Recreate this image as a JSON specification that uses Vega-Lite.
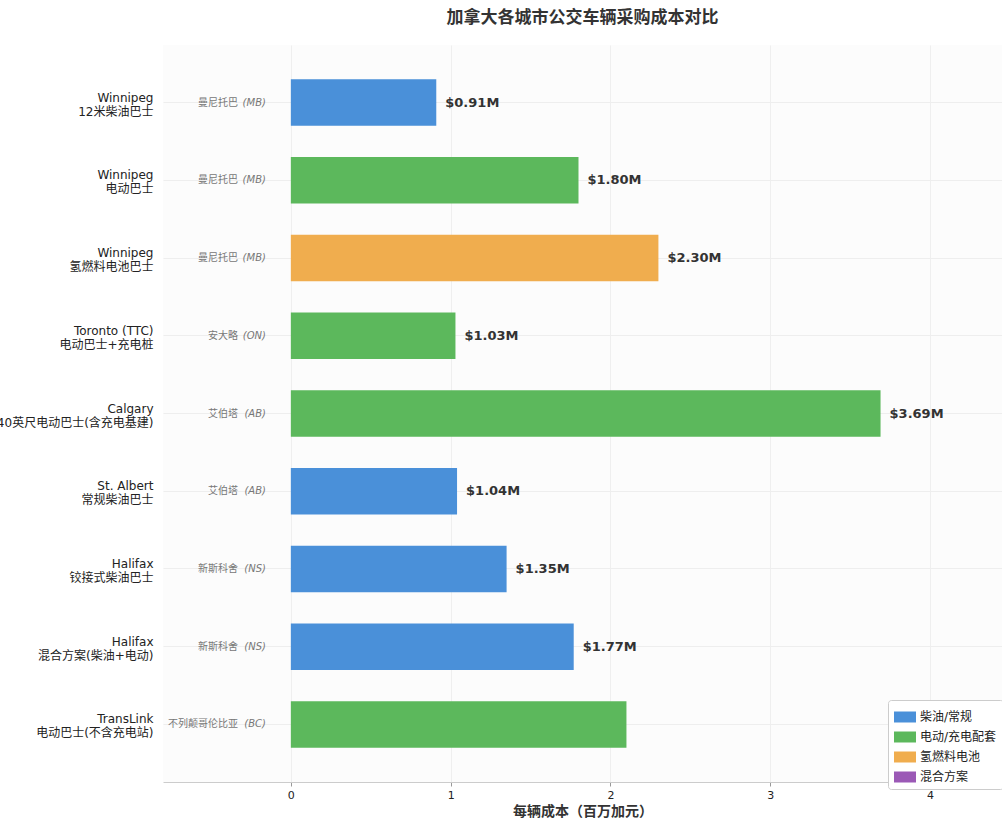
{
  "$schema": "https://vega.github.io/schema/vega-lite/v6.json",
  "autosize": {"type": "none"},
  "width": 839,
  "height": 737,
  "padding": {"left": 163, "top": 45, "right": 0, "bottom": 40},
  "title": {
    "text": "加拿大各城市公交车辆采购成本对比",
    "fontSize": 17,
    "fontWeight": "bold",
    "color": "#333333",
    "offset": 18,
    "anchor": "middle"
  },
  "data": {
    "values": [
      {"vehicle": "Winnipeg|12米柴油巴士", "cost": 0.91, "label": "$0.91M", "type": "柴油/常规", "prov": "曼尼托巴", "abbr": "(MB)"},
      {"vehicle": "Winnipeg|电动巴士", "cost": 1.80, "label": "$1.80M", "type": "电动/充电配套", "prov": "曼尼托巴", "abbr": "(MB)"},
      {"vehicle": "Winnipeg|氢燃料电池巴士", "cost": 2.30, "label": "$2.30M", "type": "氢燃料电池", "prov": "曼尼托巴", "abbr": "(MB)"},
      {"vehicle": "Toronto (TTC)|电动巴士+充电桩", "cost": 1.03, "label": "$1.03M", "type": "电动/充电配套", "prov": "安大略", "abbr": "(ON)"},
      {"vehicle": "Calgary|40英尺电动巴士(含充电基建)", "cost": 3.69, "label": "$3.69M", "type": "电动/充电配套", "prov": "艾伯塔", "abbr": "(AB)"},
      {"vehicle": "St. Albert|常规柴油巴士", "cost": 1.04, "label": "$1.04M", "type": "柴油/常规", "prov": "艾伯塔", "abbr": "(AB)"},
      {"vehicle": "Halifax|铰接式柴油巴士", "cost": 1.35, "label": "$1.35M", "type": "柴油/常规", "prov": "新斯科舍", "abbr": "(NS)"},
      {"vehicle": "Halifax|混合方案(柴油+电动)", "cost": 1.77, "label": "$1.77M", "type": "柴油/常规", "prov": "新斯科舍", "abbr": "(NS)"},
      {"vehicle": "TransLink|电动巴士(不含充电站)", "cost": 2.10, "label": "", "type": "电动/充电配套", "prov": "不列颠哥伦比亚", "abbr": "(BC)"}
    ]
  },
  "encoding": {
    "y": {
      "field": "vehicle",
      "type": "nominal",
      "sort": null,
      "scale": {"paddingInner": 0.4, "paddingOuter": 0.44},
      "axis": {
        "title": null,
        "labelExpr": "split(datum.label, '|')",
        "labelAlign": "right",
        "labelFontSize": 12,
        "labelLineHeight": 14,
        "labelColor": "#222222",
        "labelPadding": 10,
        "labelOffset": -5,
        "labelLimit": 300,
        "ticks": false,
        "domain": false,
        "grid": true,
        "bandPosition": 0.5,
        "gridColor": "#eeeeee"
      }
    }
  },
  "layer": [
    {
      "mark": {"type": "bar"},
      "encoding": {
        "x": {
          "field": "cost",
          "type": "quantitative",
          "scale": {"domain": [-0.8, 4.45], "nice": false, "zero": false},
          "axis": {
            "title": "每辆成本（百万加元）",
            "titleFontSize": 14,
            "titleFontWeight": "bold",
            "titleColor": "#333333",
            "titlePadding": 4,
            "values": [0, 1, 2, 3, 4],
            "format": "d",
            "labelFontSize": 11,
            "labelColor": "#222222",
            "labelPadding": 3,
            "grid": true,
            "gridColor": "#efefef",
            "domainColor": "#cccccc",
            "tickColor": "#999999",
            "tickSize": 4
          }
        },
        "x2": {"datum": 0},
        "color": {
          "field": "type",
          "type": "nominal",
          "scale": {
            "domain": ["柴油/常规", "电动/充电配套", "氢燃料电池", "混合方案"],
            "range": ["#4a90d9", "#5cb85c", "#f0ad4e", "#9b59b6"]
          },
          "legend": {
            "title": null,
            "orient": "none",
            "legendX": 725,
            "legendY": 655,
            "fillColor": "#ffffff",
            "strokeColor": "#cccccc",
            "cornerRadius": 3,
            "padding": 6,
            "labelFontSize": 12,
            "labelColor": "#222222",
            "rowPadding": 3,
            "symbolType": "M-1,-0.5H1V0.5H-1Z",
            "symbolSize": 484,
            "symbolStrokeWidth": 0,
            "symbolOpacity": 1
          }
        }
      }
    },
    {
      "mark": {"type": "text", "align": "left", "baseline": "middle", "dx": 9, "fontSize": 13, "fontWeight": "bold", "color": "#333333"},
      "encoding": {
        "x": {"field": "cost", "type": "quantitative"},
        "text": {"field": "label"}
      }
    },
    {
      "mark": {"type": "text", "align": "right", "baseline": "middle", "dx": -28, "fontSize": 10, "color": "#777777"},
      "encoding": {
        "x": {"datum": -0.156},
        "text": {"field": "prov"}
      }
    },
    {
      "mark": {"type": "text", "align": "right", "baseline": "middle", "fontSize": 10, "fontStyle": "italic", "color": "#777777"},
      "encoding": {
        "x": {"datum": -0.156},
        "text": {"field": "abbr"}
      }
    }
  ],
  "config": {
    "font": "DejaVu Sans, Noto Sans CJK SC",
    "background": "#ffffff",
    "view": {"stroke": null, "fill": "#fcfcfc"}
  }
}
